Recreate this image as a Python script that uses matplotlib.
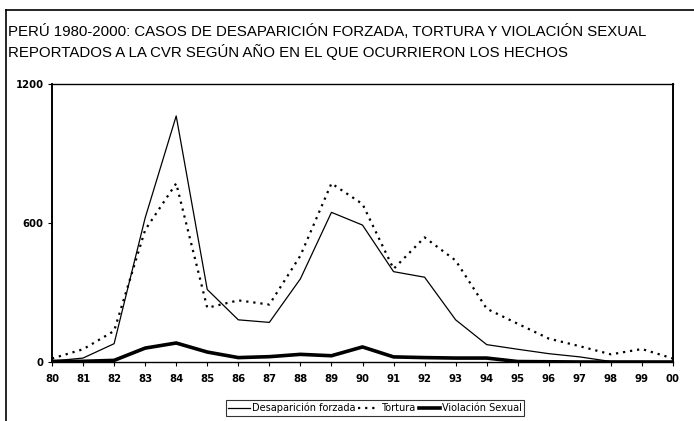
import matplotlib
matplotlib.use("Agg")
import matplotlib.pyplot as plt
from matplotlib.lines import Line2D

years = ["80", "81", "82", "83", "84", "85", "86", "87", "88", "89", "90",
         "91", "92", "93", "94", "95", "96", "97", "98", "99", "00"]
desaparicion = [4, 17, 79, 622, 1062, 313, 182, 171, 359, 646, 591,
                390, 366, 182, 75, 55, 36, 22, 2, 2, 0]
tortura = [15, 55, 134, 570, 771, 234, 266, 248, 459, 771, 682,
           402, 538, 438, 230, 165, 101, 68, 33, 56, 15]
violacion = [3, 3, 7, 60, 82, 43, 19, 23, 33, 27, 65,
             22, 19, 17, 17, 2, 1, 0, 0, 0, 0]
yticks = [0, 600, 1200]
title = ("PERÚ 1980-2000: CASOS DE DESAPARICIÓN FORZADA, TORTURA Y VIOLACIÓN SEXUAL\n"
         "REPORTADOS A LA CVR SEGÚN AÑO EN EL QUE OCURRIERON LOS HECHOS")

W, H = 694, 421
fig = plt.figure(figsize=(W / 100, H / 100), dpi=100)
ax = fig.add_axes([52 / W, (H - 362) / H, (673 - 52) / W, (362 - 84) / H])

x = list(range(len(years)))
ax.plot(x, desaparicion, color="black", lw=0.9, label="Desaparición forzada")
ax.plot(x, tortura, color="black", lw=1.6, linestyle=(0, (1, 2.2)), label="Tortura")
ax.plot(x, violacion, color="black", lw=2.6, label="Violación Sexual")

ax.set_xlim(0, len(years) - 1)
ax.set_ylim(0, 1200)
ax.set_xticks(x)
ax.set_xticklabels(years)
ax.set_yticks(yticks)
ax.set_yticklabels([str(v) for v in yticks])
for lab in ax.get_xticklabels() + ax.get_yticklabels():
    lab.set_fontweight("bold")
    lab.set_fontsize(7.3)
ax.tick_params(axis="x", direction="out", length=3, width=0.8, pad=6)
ax.tick_params(axis="y", direction="out", length=3, width=0.8, pad=3)
for s in ax.spines.values():
    s.set_linewidth(1.0)
ax.spines["left"].set_linewidth(1.4)
ax.spines["right"].set_linewidth(1.4)

fig.text(8 / W, 1 - 24 / H, title, fontsize=10.8, family="Liberation Sans",
         va="top", ha="left", linespacing=1.35)

# outer frame lines
fig.add_artist(Line2D([6 / W, 6 / W], [0, 1 - 10 / H], transform=fig.transFigure,
                      color="black", lw=1.2))
fig.add_artist(Line2D([6 / W, 1], [1 - 10 / H, 1 - 10 / H], transform=fig.transFigure,
                      color="black", lw=1.2))

leg = fig.legend(loc="center", bbox_to_anchor=(375 / W, 1 - 408 / H), ncol=3,
                 frameon=True, fancybox=False, fontsize=7, handlelength=2.2,
                 handletextpad=0.2, columnspacing=0.3, borderpad=0.25,
                 borderaxespad=0)
leg.get_frame().set_edgecolor("black")
leg.get_frame().set_linewidth(0.8)

fig.savefig("out.png", dpi=100)
